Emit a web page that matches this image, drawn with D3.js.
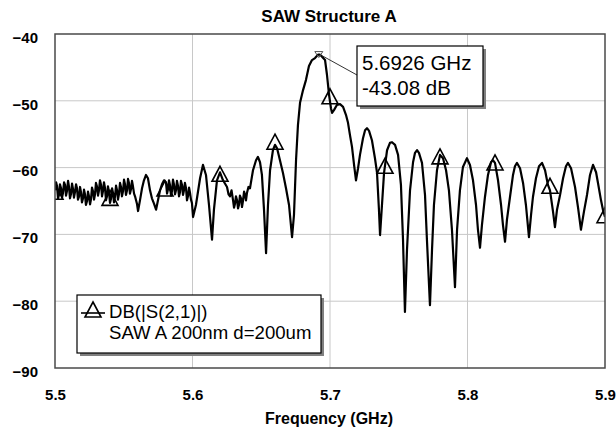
<!DOCTYPE html>
<html>
<head>
<meta charset="utf-8">
<script src="https://cdn.jsdelivr.net/npm/d3@7"></script>
<style>
html,body{margin:0;padding:0;background:#fff;}
svg{display:block;font-family:"Liberation Sans",Arial,sans-serif;}
</style>
</head>
<body>
<svg id="chart" width="616" height="430"></svg>
<script>
const titleText = "SAW Structure A";
const xLabelText = "Frequency (GHz)";
const xTicks = [5.5, 5.6, 5.7, 5.8, 5.9];
const yTicks = [-40, -50, -60, -70, -80, -90];
const legendLines = ["DB(|S(2,1)|)", "SAW A 200nm d=200um"];
const peakFreq = 5.6926;
const peakDb = -43.08;
const annotationLines = ["5.6926 GHz", "-43.08 dB"];

const freqGHz = [
5.5000,5.5008,5.5015,5.5022,5.5029,5.5036,5.5044,5.5051,5.5058,5.5066,
5.5073,5.5080,5.5087,5.5095,5.5102,5.5109,5.5116,5.5124,5.5131,5.5138,
5.5145,5.5153,5.5160,5.5167,5.5175,5.5182,5.5189,5.5196,5.5204,5.5211,
5.5218,5.5225,5.5233,5.5240,5.5247,5.5255,5.5262,5.5269,5.5276,5.5284,
5.5291,5.5298,5.5305,5.5313,5.5320,5.5327,5.5335,5.5342,5.5349,5.5356,
5.5364,5.5371,5.5378,5.5385,5.5393,5.5400,5.5407,5.5415,5.5422,5.5429,
5.5436,5.5444,5.5451,5.5458,5.5465,5.5473,5.5480,5.5487,5.5495,5.5502,
5.5509,5.5516,5.5524,5.5531,5.5538,5.5545,5.5553,5.5560,5.5567,5.5575,
5.5582,5.5596,5.5604,5.5618,5.5633,5.5647,5.5662,5.5676,5.5691,5.5705,
5.5720,5.5735,5.5749,5.5764,5.5778,5.5793,
5.5807,5.5815,5.5822,5.5829,5.5836,5.5844,5.5851,5.5858,5.5865,5.5873,
5.5880,5.5887,5.5895,5.5902,5.5909,5.5916,5.5924,5.5931,5.5938,5.5945,
5.5953,5.5960,5.5967,5.5975,5.5982,5.5989,5.5996,
5.6004,5.6025,5.6055,5.6076,5.6098,5.6120,5.6142,5.6156,5.6178,5.6200,
5.6222,
5.6251,5.6262,5.6273,5.6284,5.6295,5.6302,5.6309,5.6316,5.6324,5.6331,
5.6338,5.6345,5.6353,5.6360,5.6367,5.6375,5.6382,5.6389,5.6396,5.6407,
5.6418,5.6440,5.6462,5.6476,5.6491,5.6505,5.6520,5.6535,5.6549,
5.6564,5.6585,5.6600,5.6615,5.6636,5.6658,5.6680,5.6702,5.6724,5.6738,
5.6753,5.6767,5.6782,5.6804,5.6825,5.6847,5.6869,5.6891,5.6913,5.6926,
5.6942,5.6964,5.6978,5.6993,5.7007,5.7015,5.7029,5.7051,5.7073,5.7095,
5.7116,5.7131,5.7145,5.7160,5.7175,5.7189,5.7204,5.7218,5.7240,5.7255,
5.7269,5.7284,5.7305,5.7327,5.7342,5.7356,5.7364,5.7378,5.7393,5.7415,
5.7436,5.7451,5.7473,5.7495,5.7516,5.7531,5.7545,5.7560,5.7582,5.7604,
5.7618,5.7633,5.7647,5.7669,5.7691,5.7705,5.7727,5.7742,5.7756,5.7778,
5.7800,5.7822,5.7844,5.7865,5.7887,5.7909,5.7924,5.7945,5.7967,5.7996,
5.8018,5.8040,5.8062,5.8076,5.8091,5.8105,5.8127,5.8149,5.8171,5.8185,
5.8200,5.8222,5.8244,5.8258,5.8273,5.8287,5.8309,5.8331,5.8345,5.8360,
5.8382,5.8404,5.8425,5.8447,5.8462,5.8476,5.8498,5.8520,5.8542,5.8564,
5.8585,5.8600,5.8622,5.8636,5.8651,5.8673,5.8695,5.8716,5.8731,5.8753,
5.8782,5.8804,5.8825,5.8847,5.8869,5.8891,5.8913,5.8935,5.8949,5.8971,
5.8985,5.9000
];

const s21Db = [
-63.4,-62.2,-62.8,-64.6,-64.1,-62.5,-63.1,-64.5,-63.8,-62.2,
-62.6,-64.2,-63.5,-62.0,-62.9,-64.6,-64.0,-62.4,-63.2,-64.5,
-63.7,-62.5,-63.1,-64.8,-64.3,-62.9,-63.7,-65.2,-64.6,-63.3,
-64.0,-65.6,-65.0,-63.6,-64.3,-65.5,-64.7,-63.0,-63.5,-64.8,
-64.0,-62.3,-62.8,-64.2,-63.4,-61.9,-62.6,-64.3,-63.5,-62.2,
-63.1,-64.9,-64.3,-62.8,-63.7,-65.3,-64.7,-63.1,-63.8,-65.2,
-64.4,-62.7,-63.4,-64.8,-64.0,-62.3,-62.9,-64.3,-63.5,-61.8,
-62.5,-64.1,-63.4,-61.7,-62.3,-63.9,-63.2,-62.0,-62.8,-63.9,
-64.3,-65.4,-66.5,-64.9,-63.1,-61.9,-61.1,-61.6,-63.4,-64.6,
-65.4,-66.3,-64.9,-63.4,-62.5,-61.9,
-62.2,-63.9,-63.2,-61.9,-62.6,-64.2,-63.5,-61.8,-62.5,-64.0,
-63.4,-62.0,-62.8,-64.3,-63.7,-62.0,-62.6,-64.1,-63.4,-62.3,
-63.1,-64.9,-64.3,-63.0,-63.8,-64.8,-65.3,
-67.4,-65.6,-61.6,-59.6,-61.1,-65.6,-70.8,-66.3,-61.9,-60.7,
-61.9,
-62.9,-64.0,-64.3,-63.4,-64.9,-66.0,-65.4,-64.3,-64.9,-66.1,
-65.6,-64.2,-64.6,-65.9,-65.0,-63.6,-64.1,-64.9,-63.8,-62.9,
-63.1,-60.4,-58.9,-58.4,-59.2,-61.1,-66.3,-72.8,-65.6,
-60.4,-57.4,-56.6,-57.1,-58.9,-60.8,-63.1,-65.6,-70.4,-67.1,
-58.9,-53.6,-50.3,-48.4,-46.9,-44.8,-43.9,-43.6,-43.1,-43.08,
-43.4,-43.9,-46.1,-49.1,-51.1,-51.8,-51.4,-50.6,-50.5,-50.9,
-52.1,-53.3,-55.1,-56.9,-59.6,-61.9,-60.1,-58.1,-55.6,-54.4,
-54.1,-54.5,-55.9,-58.6,-60.8,-66.3,-70.1,-65.6,-60.8,-57.4,
-56.3,-56.2,-56.6,-58.1,-62.6,-70.8,-81.6,-72.3,-63.4,-59.2,
-57.8,-57.4,-57.8,-59.3,-64.1,-70.8,-80.6,-72.3,-65.6,-60.4,
-58.1,-58.6,-60.4,-63.4,-69.3,-77.9,-69.3,-63.4,-59.9,-58.6,
-59.6,-61.9,-65.6,-69.3,-72.0,-68.6,-64.4,-61.1,-59.2,-58.9,
-59.3,-61.9,-65.6,-68.6,-71.1,-67.8,-64.4,-61.1,-59.8,-59.3,
-60.1,-62.3,-65.6,-70.4,-67.1,-64.4,-61.6,-59.8,-59.3,-60.4,
-62.6,-63.4,-66.6,-68.9,-66.3,-64.1,-61.6,-59.8,-59.3,-60.1,
-62.9,-66.0,-69.3,-66.6,-64.1,-61.1,-59.6,-60.7,-62.3,-64.9,
-66.3,-67.4
];

const markerFreqs = [5.50, 5.54, 5.58, 5.62, 5.66, 5.70, 5.74, 5.78, 5.82, 5.86, 5.90];
const markerDb = [-64.0, -64.9, -63.5, -61.3, -56.5, -49.7, -60.1, -58.7, -59.6, -63.1, -67.5];

const svg = d3.select("#chart");
const M = {left: 55, right: 605, top: 34, bottom: 368};
const x = d3.scaleLinear().domain([5.5, 5.9]).range([M.left, M.right]);
const y = d3.scaleLinear().domain([-90, -40]).range([M.bottom, M.top]);

svg.append("defs").append("clipPath").attr("id", "plotclip")
  .append("rect").attr("x", M.left).attr("y", M.top)
  .attr("width", M.right - M.left).attr("height", M.bottom - M.top);

svg.append("rect").attr("x", M.left).attr("y", M.top)
  .attr("width", M.right - M.left).attr("height", M.bottom - M.top).attr("fill", "#fff");

// grid
const grid = svg.append("g");
grid.selectAll("line.gx").data(xTicks.slice(1, -1)).enter().append("line")
  .attr("x1", d => x(d)).attr("x2", d => x(d)).attr("y1", M.top).attr("y2", M.bottom)
  .attr("stroke", "#c8c8c8").attr("stroke-width", 1);
grid.selectAll("line.gy").data(yTicks.slice(1, -1)).enter().append("line")
  .attr("y1", d => y(d)).attr("y2", d => y(d)).attr("x1", M.left).attr("x2", M.right)
  .attr("stroke", "#c8c8c8").attr("stroke-width", 1);

// axes tick labels
const xAxis = svg.append("g").attr("transform", `translate(0,${M.bottom})`)
  .call(d3.axisBottom(x).tickValues(xTicks).tickSize(0).tickPadding(21).tickFormat(d3.format(".1f")));
xAxis.select(".domain").remove();
xAxis.selectAll("text").attr("font-size", 15).attr("font-weight", "bold")
  .attr("font-family", "'Liberation Sans', Arial, sans-serif").attr("fill", "#000");

const yAxis = svg.append("g").attr("transform", `translate(${M.left},0)`)
  .call(d3.axisLeft(y).tickValues(yTicks).tickSize(0).tickPadding(17).tickFormat(d3.format("d")));
yAxis.select(".domain").remove();
yAxis.selectAll("text").attr("font-size", 15).attr("font-weight", "bold")
  .attr("font-family", "'Liberation Sans', Arial, sans-serif").attr("fill", "#000")
  .attr("dy", "0.55em");

// data trace
const plot = svg.append("g").attr("clip-path", "url(#plotclip)");
const data = freqGHz.map((f, i) => [f, s21Db[i]]);
plot.append("path").datum(data)
  .attr("d", d3.line().x(d => x(d[0])).y(d => y(d[1])))
  .attr("fill", "none").attr("stroke", "#000").attr("stroke-width", 2.2)
  .attr("stroke-linejoin", "round");

// markers (triangles)
const triPath = "M0,-10 L8,5 L-8,5 Z";
plot.selectAll("path.mk").data(markerFreqs).enter().append("path")
  .attr("d", triPath)
  .attr("transform", (d, i) => `translate(${x(d)},${y(markerDb[i])})`)
  .attr("fill", "none").attr("stroke", "#000").attr("stroke-width", 1.6);

// frame
svg.append("rect").attr("x", M.left).attr("y", M.top)
  .attr("width", M.right - M.left).attr("height", M.bottom - M.top)
  .attr("fill", "none").attr("stroke", "#4a4a4a").attr("stroke-width", 1.5);

// peak marker and annotation
const px = x(peakFreq), py = y(peakDb);
svg.append("path").attr("d", "M-4,-3 L4,-3 L0,3 Z")
  .attr("transform", `translate(${px - 1},${py})`)
  .attr("fill", "none").attr("stroke", "#555").attr("stroke-width", 1);
const box = {x: 357, y: 46, w: 126, h: 60};
svg.append("line").attr("x1", px + 2).attr("y1", py + 1).attr("x2", box.x).attr("y2", box.y + 29)
  .attr("stroke", "#333").attr("stroke-width", 1);
svg.append("rect").attr("x", box.x + 3).attr("y", box.y + 3).attr("width", box.w).attr("height", box.h)
  .attr("fill", "#808080");
svg.append("rect").attr("x", box.x).attr("y", box.y).attr("width", box.w).attr("height", box.h)
  .attr("fill", "#fff").attr("stroke", "#000").attr("stroke-width", 1.2);
svg.append("g").selectAll("text").data(annotationLines).enter().append("text")
  .attr("x", box.x + 5).attr("y", (d, i) => box.y + 24 + i * 25)
  .attr("font-size", 20.5).attr("fill", "#000").text(d => d);

// legend
const lg = {x: 77, y: 295, w: 244, h: 58};
svg.append("rect").attr("x", lg.x + 3).attr("y", lg.y + 3).attr("width", lg.w).attr("height", lg.h)
  .attr("fill", "#808080");
svg.append("rect").attr("x", lg.x).attr("y", lg.y).attr("width", lg.w).attr("height", lg.h)
  .attr("fill", "#fff").attr("stroke", "#000").attr("stroke-width", 1.2);
svg.append("line").attr("x1", lg.x + 4).attr("x2", lg.x + 28).attr("y1", lg.y + 18).attr("y2", lg.y + 18)
  .attr("stroke", "#000").attr("stroke-width", 1.6);
svg.append("path").attr("d", triPath)
  .attr("transform", `translate(${lg.x + 16},${lg.y + 17})`)
  .attr("fill", "none").attr("stroke", "#000").attr("stroke-width", 1.6);
svg.append("g").selectAll("text").data(legendLines).enter().append("text")
  .attr("x", lg.x + 32).attr("y", (d, i) => lg.y + 23 + i * 21)
  .attr("font-size", 18.6).attr("fill", "#000").text(d => d);

// title & x label
svg.append("text").attr("x", 329).attr("y", 22).attr("text-anchor", "middle")
  .attr("font-size", 17).attr("font-weight", "bold").text(titleText);
svg.append("text").attr("x", 329).attr("y", 424).attr("text-anchor", "middle")
  .attr("font-size", 16).attr("font-weight", "bold").text(xLabelText);
</script>
</body>
</html>
